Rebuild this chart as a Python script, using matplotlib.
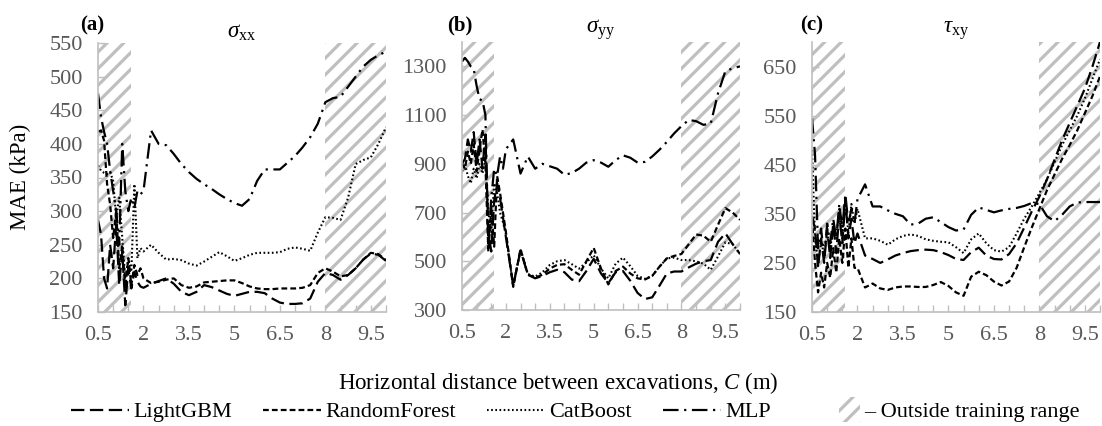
import matplotlib
matplotlib.use('Agg')
import matplotlib.pyplot as plt
from matplotlib.patches import Patch, Rectangle
from matplotlib.lines import Line2D
from matplotlib.legend_handler import HandlerPatch
from matplotlib.ticker import MultipleLocator

plt.rcParams['font.family'] = ['Liberation Serif', 'DejaVu Serif']
plt.rcParams['mathtext.fontset'] = 'custom'
plt.rcParams['mathtext.rm'] = 'Liberation Serif'
plt.rcParams['mathtext.it'] = 'Liberation Serif:italic'
plt.rcParams['hatch.linewidth'] = 2.3

# horizontal distance between excavations C (m)
C = [0.5, 0.6, 0.7, 0.8, 0.9, 1.0, 1.1, 1.2, 1.3, 1.4, 1.5, 1.6, 1.7, 1.8, 1.9, 2.0,
     2.25, 2.5, 2.75, 3.0, 3.25, 3.5, 3.75, 4.0, 4.25, 4.5, 4.75, 5.0, 5.25, 5.5, 5.75, 6.0,
     6.25, 6.5, 6.75, 7.0, 7.25, 7.5, 7.75, 8.0, 8.25, 8.5, 8.75, 9.0, 9.25, 9.5, 9.75, 10.0]

# (a) sigma_xx MAE (kPa)
sxx_lgbm = [287, 265, 200, 185, 250, 215, 280, 190, 240, 160, 215, 185, 210, 195, 188, 186,
            192, 196, 200, 192, 180, 175, 180, 190, 187, 182, 177, 174, 177, 180, 180, 178,
            170, 164, 162, 162, 163, 170, 195, 208, 205, 198, 205, 215, 228, 237, 235, 226]
sxx_rf = [418, 420, 405, 340, 310, 260, 300, 215, 250, 185, 230, 190, 220, 205, 215, 200,
          193, 195, 198, 200, 190, 186, 188, 194, 195, 196, 197, 197, 193, 188, 185, 184,
          184, 185, 185, 185, 186, 190, 208, 215, 210, 203, 205, 215, 228, 238, 236, 227]
sxx_cat = [368, 360, 357, 355, 358, 345, 290, 320, 260, 200, 230, 210, 340, 230, 245, 240,
           250, 238, 228, 229, 227, 222, 219, 225, 232, 239, 233, 226, 230, 235, 238, 238,
           238, 239, 244, 246, 244, 241, 268, 291, 290, 287, 320, 370, 376, 380, 400, 425]
sxx_mlp = [475, 440, 418, 400, 360, 330, 300, 250, 400, 330, 300, 320, 305, 330, 325, 330,
           420, 400, 398, 385, 370, 358, 348, 340, 333, 325, 318, 312, 308, 318, 345, 362,
           362, 362, 372, 382, 395, 410, 430, 462, 468, 470, 485, 500, 515, 525, 532, 537]

# (b) sigma_yy MAE (kPa)
syy_lgbm = [900, 920, 1000, 950, 1030, 900, 1000, 880, 1020, 620, 540, 750, 820, 760, 680, 600,
            400, 545, 445, 430, 440, 455, 465, 455, 425, 418, 460, 510, 450, 410, 455, 460,
            420, 370, 345, 352, 400, 450, 458, 458, 475, 490, 500, 505, 580, 615, 570, 530]
syy_rf = [900, 880, 950, 900, 980, 870, 960, 1040, 900, 540, 720, 560, 850, 780, 700, 620,
          395, 550, 445, 432, 445, 470, 485, 488, 465, 445, 500, 555, 470, 405, 460, 478,
          450, 430, 425, 440, 478, 512, 522, 530, 570, 610, 605, 580, 650, 718, 700, 670]
syy_cat = [870, 900, 850, 820, 880, 840, 900, 860, 920, 700, 620, 820, 780, 700, 660, 610,
           398, 548, 448, 437, 455, 485, 500, 505, 488, 470, 495, 525, 470, 430, 490, 515,
           480, 440, 428, 440, 478, 512, 515, 505, 505, 500, 490, 465, 520, 578, 570, 530]
syy_mlp = [1320, 1335, 1320, 1300, 1290, 1220, 1165, 1160, 1100, 560, 760, 880, 850, 930, 880, 960,
           1000, 860, 930, 880, 900, 890, 880, 855, 862, 880, 905, 915, 905, 888, 915, 935,
           925, 905, 908, 930, 958, 990, 1025, 1055, 1080, 1075, 1060, 1065, 1190, 1280, 1292, 1300]

# (c) tau_xy MAE (kPa)
txy_lgbm = [345, 320, 240, 300, 250, 320, 260, 330, 270, 350, 290, 380, 300, 340, 290, 310,
            265, 258, 250, 257, 265, 270, 274, 276, 277, 276, 272, 266, 258, 256, 272, 281,
            265, 258, 257, 268, 290, 322, 355, 385, 420, 460, 500, 535, 570, 605, 650, 700]
txy_rf = [340, 250, 190, 230, 200, 250, 220, 280, 230, 300, 250, 320, 240, 300, 240, 240,
          200, 208, 198, 195, 200, 202, 202, 201, 201, 205, 211, 203, 190, 183, 222, 232,
          225, 212, 204, 212, 240, 282, 322, 360, 398, 430, 462, 490, 520, 555, 590, 630]
txy_cat = [480, 300, 250, 290, 270, 310, 280, 320, 300, 360, 300, 380, 310, 370, 330, 360,
           300, 300, 295, 287, 298, 305, 308, 305, 298, 295, 293, 292, 282, 270, 298, 310,
           290, 276, 273, 282, 310, 340, 365, 392, 420, 455, 490, 520, 550, 585, 625, 665]
txy_mlp = [545, 470, 280, 320, 260, 330, 290, 340, 300, 370, 320, 390, 330, 360, 330, 380,
           410, 365, 365, 357, 350, 345, 328, 330, 340, 343, 333, 323, 316, 318, 348, 363,
           358, 353, 357, 360, 362, 366, 372, 370, 345, 335, 348, 365, 373, 374, 374, 374]

models = ['LightGBM', 'RandomForest', 'CatBoost', 'MLP']
styles = {
    'LightGBM': dict(dashes=(6, 2.5), lw=1.6),
    'RandomForest': dict(dashes=(2.6, 1.4), lw=1.6),
    'CatBoost': dict(dashes=(0.8, 1.2), lw=1.5),
    'MLP': dict(dashes=(7, 2.5, 1, 2.5), lw=1.6),
}

panels = [
    ('(a)', r'$\sigma_{\rm xx}$', [sxx_lgbm, sxx_rf, sxx_cat, sxx_mlp], (150, 550), 50, 150),
    ('(b)', r'$\sigma_{\rm yy}$', [syy_lgbm, syy_rf, syy_cat, syy_mlp], (300, 1400), 200, 300),
    ('(c)', r'$\tau_{\rm xy}$', [txy_lgbm, txy_rf, txy_cat, txy_mlp], (150, 700), 100, 150),
]

W, H = 1102, 426
boxes = [(98, 386, 43, 312), (462, 740, 42, 310), (812, 1100, 42, 312)]
tag_x = [92, 460, 812]

fig = plt.figure(figsize=(W / 100, H / 100), dpi=100)
grey = '#bfbfbf'
tick_grey = '#595959'

for (tag, title, series, ylim, step, ystart), (l, r, t, b), tx in zip(panels, boxes, tag_x):
    ax = fig.add_axes([l / W, 1 - b / H, (r - l) / W, (b - t) / H])
    ax.axvspan(0.5, 1.6, facecolor='white', edgecolor=grey, hatch='//', lw=0, zorder=0)
    ax.axvspan(8.0, 10.0, facecolor='white', edgecolor=grey, hatch='//', lw=0, zorder=0)
    for name, vals in zip(models, series):
        ax.plot(C, vals, color='black', **styles[name], zorder=3)
    ax.set_xlim(0.5, 10.0)
    ax.set_ylim(*ylim)
    ax.set_xticks([0.5, 2, 3.5, 5, 6.5, 8, 9.5])
    ax.set_xticklabels(['0.5', '2', '3.5', '5', '6.5', '8', '9.5'])
    ax.xaxis.set_minor_locator(MultipleLocator(0.5))
    ax.set_yticks(list(range(ystart, ylim[1] + 1, step)))
    for s in ['top', 'right']:
        ax.spines[s].set_visible(False)
    for s in ['left', 'bottom']:
        ax.spines[s].set_color(grey)
        ax.spines[s].set_linewidth(1.2)
        ax.spines[s].set_zorder(4)
    ax.tick_params(axis='both', which='both', direction='in', color=grey, length=5,
                   width=1, labelcolor=tick_grey, labelsize=16)
    ax.tick_params(axis='y', pad=11)
    ax.tick_params(axis='x', pad=10)
    ax.set_title(title, fontsize=16.5, pad=3)
    fig.text(tx / W, 1 - 25 / H, tag, fontsize=15, fontweight='bold', ha='center', va='center')

fig.text(20 / W, 1 - 177 / H, 'MAE (kPa)', rotation=90, fontsize=16.5, ha='center', va='center')
fig.text(558 / W, 1 - 383 / H, 'Horizontal distance between excavations, $C$ (m)',
         fontsize=16.5, ha='center', va='center')


def narrow_patch(legend, orig_handle, xdescent, ydescent, width, height, fontsize):
    return Rectangle((width - 1.3 * height - xdescent, -ydescent - 0.3 * height),
                     1.3 * height, 1.6 * height)


handles = [Line2D([0], [0], color='black', **styles[m]) for m in models]
handles.append(Patch(facecolor='white', edgecolor=grey, hatch='//', lw=0))
labels = models + ['\u2013 Outside training range']
fig.legend(handles, labels, loc='center', bbox_to_anchor=(0.522, 1 - 412 / H), ncol=5,
           frameon=False, fontsize=16, handlelength=2.6, handletextpad=0.2,
           columnspacing=1.4, handler_map={Patch: HandlerPatch(patch_func=narrow_patch)})

fig.savefig('out.png', dpi=100)
